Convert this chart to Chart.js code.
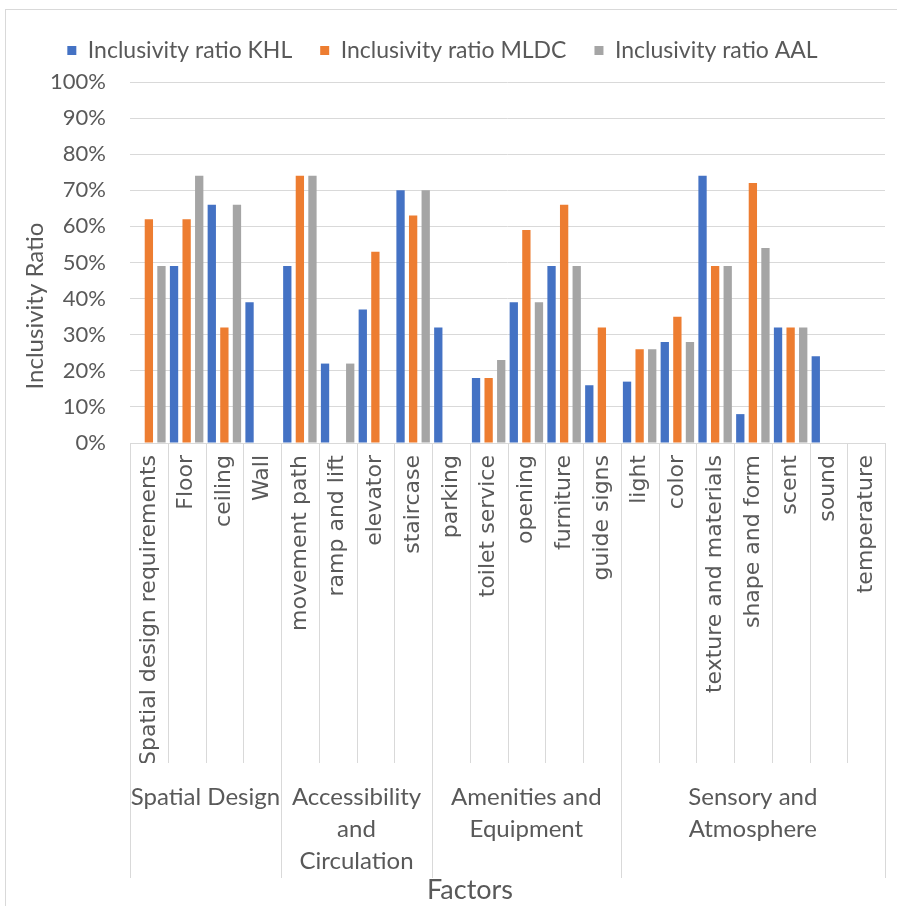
<!DOCTYPE html>
<html>
<head>
<meta charset="utf-8">
<script src="https://cdn.jsdelivr.net/npm/chart.js@4/dist/chart.umd.min.js"></script>
<style>
  body { margin: 0; background: #fff; }
  #frame { position: absolute; left: 5px; top: 9px; width: 900px; height: 900px; border: 1px solid #d9d9d9; }
  #myChart { position: absolute; left: 0; top: 0; }
</style>
</head>
<body>
<div id="frame"></div>
<canvas id="myChart" width="897" height="906"></canvas>
<script>
// categories and group spans
var categories = ['Spatial design requirements', 'Floor', 'ceiling', 'Wall',
  'movement path', 'ramp and lift', 'elevator', 'staircase',
  'parking', 'toilet service', 'opening', 'furniture', 'guide signs',
  'light', 'color', 'texture and materials', 'shape and form', 'scent', 'sound', 'temperature'];
var groupNames = [['Spatial Design'], ['Accessibility', 'and', 'Circulation'], ['Amenities and', 'Equipment'], ['Sensory and', 'Atmosphere']];
var groupStart = [0, 4, 8, 13, 20];

// values in %
var khl  = [null, 49, 66, 39, 49, 22, 37, 70, 32, 18, 39, 49, 16, 17, 28, 74, 8, 32, 24, null];
var mldc = [62, 62, 32, null, 74, null, 53, 63, null, 18, 59, 66, 32, 26, 35, 49, 72, 32, null, null];
var aal  = [49, 74, 66, null, 74, 22, null, 70, null, 23, 39, 49, null, 26, 28, 49, 54, 32, null, null];

var yTicks = [0, 10, 20, 30, 40, 50, 60, 70, 80, 90, 100];

var textColor = '#595959';
var lineColor = '#d9d9d9';

var groupAxis = {
  id: 'groupAxis',
  beforeInit: function(chart) {
    // a bit more room under the legend
    if (chart.legend) {
      var fit = chart.legend.fit;
      chart.legend.fit = function() {
        fit.call(this);
        this.height += 10;
      };
    }
  },
  afterDraw: function(chart) {
    var ctx = chart.ctx;
    var x = chart.scales.x;
    var xg = chart.scales.xg;
    ctx.save();
    ctx.strokeStyle = lineColor;
    ctx.lineWidth = 1;
    // separators between categories
    for (var k = 0; k <= categories.length; k++) {
      var px = Math.round(x.getPixelForValue(k - 0.5)) + 0.5;
      var isGroup = groupStart.indexOf(k) >= 0;
      ctx.beginPath();
      ctx.moveTo(px, x.top);
      ctx.lineTo(px, isGroup ? xg.top + 115 : x.bottom);
      ctx.stroke();
    }
    // group labels
    ctx.fillStyle = textColor;
    ctx.font = '24px Lato';
    ctx.textAlign = 'center';
    ctx.textBaseline = 'middle';
    for (var g = 0; g < groupNames.length; g++) {
      var a = x.getPixelForValue(groupStart[g] - 0.5);
      var b = x.getPixelForValue(groupStart[g + 1] - 0.5);
      for (var l = 0; l < groupNames[g].length; l++) {
        ctx.fillText(groupNames[g][l], (a + b) / 2, xg.top + 34 + l * 32);
      }
    }
    // axis titles
    ctx.font = '27px Lato';
    ctx.fillText('Factors', 470, xg.bottom - 16);
    ctx.font = '24px Lato';
    ctx.translate(35, 306);
    ctx.rotate(-Math.PI / 2);
    ctx.fillText('Inclusivity Ratio', 0, 0);
    ctx.restore();
  }
};

var ctx = document.getElementById('myChart');
var myChart = new Chart(ctx, {
  type: 'bar',
  data: {
    labels: categories,
    datasets: [
      { label: 'Inclusivity ratio KHL', data: khl, backgroundColor: '#4472C4' },
      { label: 'Inclusivity ratio MLDC', data: mldc, backgroundColor: '#ED7D31' },
      { label: 'Inclusivity ratio AAL', data: aal, backgroundColor: '#A5A5A5' }
    ]
  },
  options: {
    responsive: false,
    animation: false,
    categoryPercentage: 1.0,
    barPercentage: 0.66,
    layout: { padding: { top: 11, right: 12, left: 0, bottom: 0 } },
    plugins: {
      legend: {
        position: 'top',
        labels: { boxWidth: 9, boxHeight: 9, padding: 28, color: textColor, font: { family: 'Lato', size: 23 } }
      },
      tooltip: { enabled: false }
    },
    scales: {
      x: {
        weight: 0,
        offset: true,
        grid: { display: false },
        border: { display: true, color: lineColor },
        ticks: { autoSkip: false, minRotation: 90, maxRotation: 90, padding: 4, color: textColor, font: { family: 'DejaVu Sans', size: 22 } },
        afterFit: function(s) { s.height = 320; }
      },
      xg: {
        type: 'category',
        labels: categories,
        position: 'bottom',
        weight: 1,
        grid: { display: false },
        border: { display: false },
        ticks: { display: false },
        afterFit: function(s) { s.height = 143; }
      },
      y: {
        min: 0,
        max: 100,
        afterBuildTicks: function(s) { s.ticks = yTicks.map(function(v) { return { value: v }; }); },
        grid: { color: lineColor, drawTicks: false },
        border: { display: false },
        ticks: { padding: 24, color: textColor, font: { family: 'Lato', size: 22 }, callback: function(v) { return v + '%'; } },
        afterFit: function(s) { s.width = 130; }
      }
    }
  },
  plugins: [groupAxis]
});
</script>
</body>
</html>
